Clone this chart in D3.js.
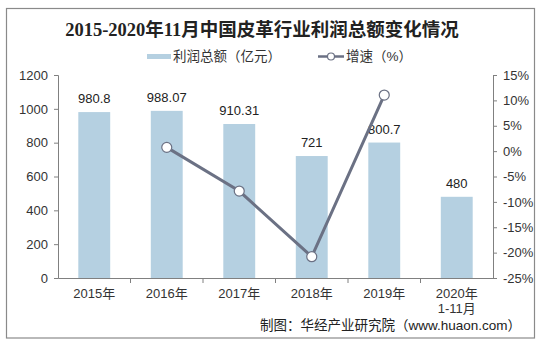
<!DOCTYPE html>
<html><head><meta charset="utf-8">
<script src="https://cdn.jsdelivr.net/npm/d3@7/dist/d3.min.js"></script>
<style>body{margin:0;background:#fff}svg{display:block}</style>
</head><body>
<svg id="c" width="543" height="349"></svg>
<script>
const categories = ["2015年","2016年","2017年","2018年","2019年","2020年\n1-11月"];
const profit = [980.8, 988.07, 910.31, 721, 800.7, 480];
const profitLabels = ["980.8","988.07","910.31","721","800.7","480"];
const growth = [null, 0.74, -7.87, -20.8, 11.05, null];
const leftTicks = [0,200,400,600,800,1000,1200];
const rightTicks = [-25,-20,-15,-10,-5,0,5,10,15];
const title = "2015-2020年11月中国皮革行业利润总额变化情况";
const legendNames = ["利润总额（亿元）","增速（%）"];
const source = "制图：华经产业研究院（www.huaon.com）";

const svg = d3.select("#c");
const font = "Arial, 'Liberation Sans', 'Noto Sans CJK SC', sans-serif";
const barColor = "#b5d0e1", lineColor = "#6b7184", axisColor = "#808080";
const L = 58, R = 493, T = 75, B = 278;

svg.append("rect").attr("x",6.5).attr("y",8.5).attr("width",528).attr("height",329.5)
  .attr("fill","none").attr("stroke","#8a8a8a").attr("stroke-width",1.2);

svg.append("text").attr("x",262).attr("y",36).attr("text-anchor","middle")
  .attr("font-family","'Liberation Serif','Times New Roman','Noto Sans CJK SC',serif")
  .attr("font-weight","bold").attr("font-size",18.5).attr("fill","#222").text(title);

const x = d3.scaleBand().domain(categories).range([L,R]).paddingInner(0.56).paddingOuter(0.28);
const xb = d3.scaleBand().domain(categories).range([L,R]);
const yL = d3.scaleLinear().domain([0,1200]).range([B,T]);
const yR = d3.scaleLinear().domain([-25,15]).range([B,T]);

// legend
const lg = svg.append("g").attr("font-family",font).attr("font-size",13.5).attr("fill","#333");
lg.append("rect").attr("x",147).attr("y",54).attr("width",24).attr("height",5).attr("fill",barColor);
lg.append("text").attr("x",173).attr("y",61).attr("fill","#333").text(legendNames[0]);
lg.append("line").attr("x1",318).attr("x2",344).attr("y1",56.5).attr("y2",56.5).attr("stroke",lineColor).attr("stroke-width",2.5);
lg.append("circle").attr("cx",331).attr("cy",56.5).attr("r",3.5).attr("fill","#fff").attr("stroke",lineColor).attr("stroke-width",1.2);
lg.append("text").attr("x",346).attr("y",61).attr("fill","#333").text(legendNames[1]);

// bars
svg.append("g").selectAll("rect").data(profit).join("rect")
  .attr("x",(d,i)=>x(categories[i])).attr("width",x.bandwidth())
  .attr("y",d=>yL(d)).attr("height",d=>B-yL(d)).attr("fill",barColor);

// axes
const axL = svg.append("g").attr("transform",`translate(${L},0)`)
  .call(d3.axisLeft(yL).tickValues(leftTicks).tickSize(4).tickPadding(6).tickFormat(d=>String(d)));
const axR = svg.append("g").attr("transform",`translate(${R},0)`)
  .call(d3.axisRight(yR).tickValues(rightTicks).tickSize(4).tickPadding(6).tickFormat(d=>d+"%"));
const axB = svg.append("g").attr("transform",`translate(0,${B})`)
  .call(d3.axisBottom(xb).tickSize(0).tickFormat(""));
[axL,axR,axB].forEach(a=>{
  a.select(".domain").attr("stroke",axisColor);
  a.selectAll(".tick line").attr("stroke",axisColor);
  a.selectAll("text").attr("font-family",font).attr("font-size",13).attr("fill","#333");
});
// category separators
svg.append("g").selectAll("line").data(categories.slice(1)).join("line")
  .attr("x1",d=>xb(d)).attr("x2",d=>xb(d)).attr("y1",B).attr("y2",B+5).attr("stroke",axisColor);
// category labels
svg.append("g").selectAll("text").data(categories).join("text")
  .attr("font-family",font).attr("font-size",13).attr("fill","#333").attr("text-anchor","middle")
  .attr("x",d=>xb(d)+xb.bandwidth()/2).attr("y",298)
  .each(function(d){
    const parts = d.split("\n");
    d3.select(this).selectAll("tspan").data(parts).join("tspan")
      .attr("x",xb(d)+xb.bandwidth()/2).attr("dy",(p,j)=>j?15:0).text(p=>p);
  });

// bar labels
svg.append("g").selectAll("text").data(profit).join("text")
  .attr("font-family",font).attr("font-size",13).attr("fill","#222").attr("text-anchor","middle")
  .attr("x",(d,i)=>x(categories[i])+x.bandwidth()/2).attr("y",d=>yL(d)-9)
  .text((d,i)=>profitLabels[i]);

// line
const pts = growth.map((g,i)=>({g,i})).filter(p=>p.g!==null);
const cx = p=>xb(categories[p.i])+xb.bandwidth()/2;
svg.append("path").datum(pts)
  .attr("d",d3.line().x(cx).y(p=>yR(p.g)))
  .attr("fill","none").attr("stroke",lineColor).attr("stroke-width",3);
svg.append("g").selectAll("circle").data(pts).join("circle")
  .attr("cx",cx).attr("cy",p=>yR(p.g)).attr("r",5)
  .attr("fill","#fff").attr("stroke",lineColor).attr("stroke-width",1.2);

// source
svg.append("text").attr("x",521).attr("y",330).attr("text-anchor","end")
  .attr("font-family",font).attr("font-size",13.5).attr("fill","#222").text(source);
</script>
</body></html>
